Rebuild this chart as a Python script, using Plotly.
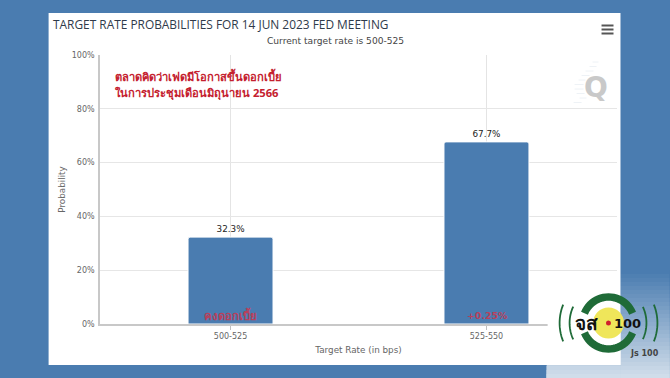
import math
import plotly.graph_objects as go

categories = ["500-525", "525-550"]
probabilities = [32.3, 67.7]
value_labels = ["32.3%", "67.7%"]
y_ticks = [0, 20, 40, 60, 80, 100]
y_tick_labels = ["0%", "20%", "40%", "60%", "80%", "100%"]

W, H = 670, 378
L, R, T, B = 99.5, 617.5, 55, 324
BLUE = "#4a7cb0"
FONT = "DejaVu Sans"
TITLE_FONT = "Open Sans"
THAI = "Noto Sans, DejaVu Sans, sans-serif"


def px(x):
    return (x - L) / (R - L)


def py(y):
    return (B - y) / (B - T)


def rect(x0, y0, x1, y1, color, layer="below"):
    return dict(type="rect", xref="paper", yref="paper", x0=px(x0), x1=px(x1),
                y0=py(y0), y1=py(y1), fillcolor=color, line_width=0, layer=layer)


def line(x0, y0, x1, y1, color, width=1, layer="above"):
    return dict(type="line", xref="paper", yref="paper", x0=px(x0), x1=px(x1),
                y0=py(y0), y1=py(y1), line=dict(color=color, width=width), layer=layer)


def circle(cx, cy, r, color):
    return dict(type="circle", xref="paper", yref="paper", x0=px(cx - r), x1=px(cx + r),
                y0=py(cy + r), y1=py(cy - r), fillcolor=color, line_width=0, layer="above")


def arc(cx, cy, r, a0, a1, color, width):
    pts = []
    for i in range(25):
        a = math.radians(a0 + (a1 - a0) * i / 24)
        pts.append((px(cx + r * math.cos(a)), py(cy - r * math.sin(a))))
    d = "M " + " L ".join(f"{x:.5f},{y:.5f}" for x, y in pts)
    return dict(type="path", xref="paper", yref="paper", path=d,
                line=dict(color=color, width=width), layer="above")


def mix(c0, c1, t):
    return "rgb(" + ",".join(str(round(a + (b - a) * t)) for a, b in zip(c0, c1)) + ")"


shapes = []

# light corner behind the logo (each band runs to the bottom; later bands cover earlier ones)
for i in range(27):
    y0 = 270 + i * 4
    c = mix((74, 124, 176), (208, 221, 234), i / 26)
    shapes.append(rect(621, y0, 670, 378, c))
    if y0 + 4 > 365:
        shapes.append(rect(547, max(y0, 365), 621, 378, c))

shapes.append(rect(48, 13, 621, 365, "#ffffff"))

# logo box hides the end of the axis line
shapes.append(rect(548, 318, 621, 365, "#ffffff", "above"))

# menu icon
for y in (25.5, 29.5, 33.5):
    shapes.append(line(602, y, 614, y, "#555555", 2))

# Q watermark stripes
for i, (a, b) in enumerate([(593, 599), (590, 597), (586, 594), (582, 590), (579, 586),
                            (575, 584), (575, 584), (577, 585), (580, 587), (574, 582)]):
    y = 62 + i * 4.5
    shapes.append(line(a, y, b, y, "#eef2f6", 1, "below"))

# logo
shapes += [
    circle(609, 323, 15.5, "#efe65a"),
    arc(609, 323, 26, 22, 158, "#1f6b38", 7.5),
    arc(609, 323, 26, 202, 338, "#1f6b38", 7.5),
    circle(609, 323, 2.5, "#d0202c"),
    arc(609, 323, 39, 155, 205, "#1f6b38", 1.8),
    arc(609, 323, 38, -25, 25, "#1f6b38", 1.8),
    arc(609, 323, 49, -22, 22, "#1f6b38", 1.8),
    arc(609, 323, 49, 158, 202, "#1f6b38", 1.8),
]


def note(x, y, text, size, color, font=FONT, anchor="center", weight=None):
    return dict(xref="paper", yref="paper", x=px(x), y=py(y), text=text, showarrow=False,
                xanchor=anchor, yanchor="middle", borderpad=0,
                font=dict(family=font, size=size, color=color, weight=weight))


annotations = [
    note(51.5, 23.5, "TARGET RATE PROBABILITIES FOR 14 JUN 2023 FED MEETING", 11.9, "#2f3a4a", TITLE_FONT, "left"),
    note(335, 41, "Current target rate is 500-525", 9.1, "#444444"),
    note(114, 76, "ตลาดคิดว่าเฟดมีโอกาสขึ้นดอกเบี้ย", 11.2, "#c4202e", THAI, "left", 700),
    note(114, 93, "ในการประชุมเดือนมิถุนายน 2566", 11.2, "#c4202e", THAI, "left", 700),
    note(230.5, 315, "คงดอกเบี้ย", 11.5, "#b8405c", THAI, weight=700),
    note(488, 315, "+0.25%", 9.4, "#b8405c", weight=700),
    note(596, 88, "Q", 28, "#c9c9c9", weight=700),
    note(587, 323, "จส", 19, "#111111", THAI, weight=700),
    note(628, 323, "100", 13, "#111111", weight=700),
    note(645, 353, "Js 100", 8, "#444444", weight=700),
]

fig = go.Figure(go.Bar(
    x=categories, y=probabilities, text=value_labels, textposition="outside",
    cliponaxis=False, width=0.332,
    marker=dict(color=BLUE, cornerradius=2, line=dict(color="#ffffff", width=1)),
    textfont=dict(family=FONT, size=8.8, color="#222222"), constraintext="none",
))

fig.update_layout(
    width=W, height=H, autosize=False, showlegend=False,
    margin=dict(l=L, r=W - R, t=T, b=H - B, pad=0),
    paper_bgcolor=BLUE, plot_bgcolor="rgba(0,0,0,0)",
    font=dict(family=FONT, color="#666666", size=8),
    shapes=shapes, annotations=annotations,
)
fig.update_xaxes(
    range=[-0.51, 1.51], type="category", showgrid=True, gridcolor="#e4e4e4", gridwidth=1,
    showline=True, linecolor="#c8c8c8", linewidth=1.5, ticks="outside", ticklen=4,
    tickcolor="#c0c0c0", tickfont=dict(size=8, color="#666666"),
    title=dict(text="Target Rate (in bps)", font=dict(size=8.8, color="#666666"), standoff=6),
)
fig.update_yaxes(
    range=[0, 100], tickvals=y_ticks, ticktext=y_tick_labels, showgrid=True, gridcolor="#e6e6e6",
    gridwidth=1.3, showline=True, linecolor="#c8c8c8", linewidth=1.5, ticks="", zeroline=False,
    tickfont=dict(size=8, color="#666666"), ticklabelstandoff=2,
    title=dict(text="Probability", font=dict(size=8.8, color="#666666"), standoff=5),
)
fig.write_html("out.html", config=dict(displayModeBar=False),
               post_script="document.body.style.margin='0';")
